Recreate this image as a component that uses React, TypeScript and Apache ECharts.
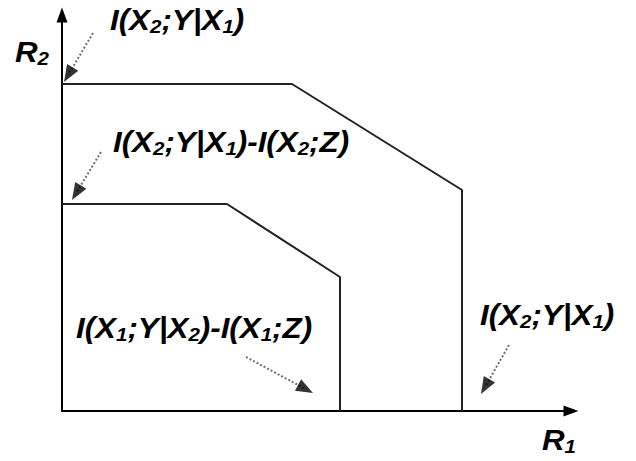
import React, { useEffect, useRef } from "react";
import * as echarts from "echarts";

// Region boundaries (R1, R2) in chart units
const outerRegion: number[][] = [
  [0, 3.27],
  [2.3, 3.27],
  [4.0, 2.21],
  [4.0, 0],
];
const innerRegion: number[][] = [
  [0, 2.07],
  [1.65, 2.07],
  [2.78, 1.34],
  [2.78, 0],
];

// Annotation arrows: start -> tip
const arrowStarts: number[][] = [
  [0.31, 3.78],
  [0.39, 2.59],
  [1.84, 0.54],
  [4.47, 0.66],
];
const arrowTips: number[][] = [
  [0.02, 3.29],
  [0.1, 2.11],
  [2.51, 0.18],
  [4.19, 0.17],
];

const labelTexts: string[] = [
  "{m|I(X}{s|2}{m|;Y|X}{s|1}{m|)}",
  "{m|I(X}{s|2}{m|;Y|X}{s|1}{m|)-I(X}{s|2}{m|;Z)}",
  "{m|I(X}{s|1}{m|;Y|X}{s|2}{m|)-I(X}{s|1}{m|;Z)}",
  "{m|I(X}{s|2}{m|;Y|X}{s|1}{m|)}",
];
const labelPos: number[][] = [
  [110, 20],
  [113, 142],
  [76, 328],
  [480, 315],
];
const axisNames: string[] = ["{m|R}{s|1}", "{m|R}{s|2}"];
const axisNamePos: number[][] = [
  [542, 440],
  [15, 52],
];

const FONT = "'Liberation Sans', Arial, sans-serif";
const rich = {
  m: {
    fontSize: 29,
    fontWeight: "bold",
    fontStyle: "italic",
    fontFamily: FONT,
    fill: "#000",
    lineHeight: 32,
  },
  s: {
    fontSize: 19,
    fontWeight: "bold",
    fontStyle: "italic",
    fontFamily: FONT,
    fill: "#000",
    lineHeight: 18,
    verticalAlign: "bottom",
  },
};

export default function App() {
  const ref = useRef<HTMLDivElement>(null);
  useEffect(() => {
    if (!ref.current) return;
    const chart = echarts.init(ref.current, undefined, { renderer: "svg" });
    const HEAD = 0.085;
    const heads = arrowTips.map((t, i) => {
      const s = arrowStarts[i];
      const dx = t[0] - s[0];
      const dy = t[1] - s[1];
      const len = Math.sqrt(dx * dx + dy * dy);
      const ang = (Math.atan2(dy, dx) * 180) / Math.PI;
      return {
        value: [t[0] - (dx / len) * HEAD, t[1] - (dy / len) * HEAD],
        symbolRotate: ang - 90,
      };
    });
    const shafts = arrowStarts.map((s, i) => ({
      coords: [s, heads[i].value],
    }));
    const texts: any[] = labelTexts.map((t, i) => ({
      type: "text",
      x: labelPos[i][0],
      y: labelPos[i][1],
      scaleX: 1.08,
      style: { text: t, rich, verticalAlign: "middle", align: "left" },
    }));
    axisNames.forEach((t, i) => {
      texts.push({
        type: "text",
        x: axisNamePos[i][0],
        y: axisNamePos[i][1],
        scaleX: 1.08,
        style: { text: t, rich, verticalAlign: "middle", align: "left" },
      });
    });
    const axisCommon = {
      type: "value" as const,
      min: 0,
      axisTick: { show: false },
      axisLabel: { show: false },
      splitLine: { show: false },
      axisLine: {
        show: true,
        symbol: ["none", "triangle"],
        symbolSize: [11, 15],
        lineStyle: { color: "#000", width: 2 },
      },
    };
    chart.setOption({
      animation: false,
      grid: { left: 62, right: 65, top: 15, bottom: 50, containLabel: false },
      xAxis: { ...axisCommon, max: 5.09 },
      yAxis: { ...axisCommon, max: 3.96 },
      series: [
        {
          type: "line",
          data: outerRegion,
          showSymbol: false,
          lineStyle: { color: "#222", width: 2 },
          z: 3,
        },
        {
          type: "line",
          data: innerRegion,
          showSymbol: false,
          lineStyle: { color: "#222", width: 2 },
          z: 3,
        },
        {
          type: "lines",
          coordinateSystem: "cartesian2d",
          data: shafts,
          lineStyle: { color: "#6f6f6f", width: 2, type: "dotted", opacity: 1 },
          z: 4,
        },
        {
          type: "scatter",
          data: heads,
          symbol: "triangle",
          symbolSize: [13, 17],
          itemStyle: { color: "#000" },
          z: 5,
        },
      ],
      graphic: texts,
    });
    return () => chart.dispose();
  }, []);
  return (
    <div
      ref={ref}
      style={{ position: "absolute", left: 0, top: 0, width: 636, height: 461, background: "#fff" }}
    />
  );
}
